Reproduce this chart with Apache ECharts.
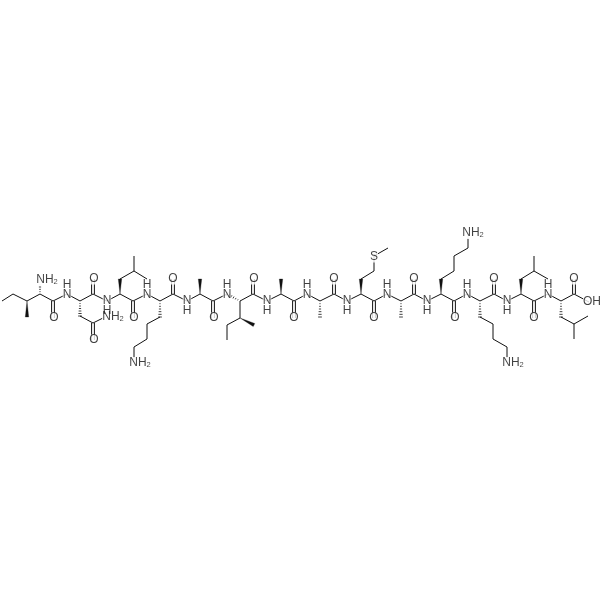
<!DOCTYPE html>
<html><head><meta charset="utf-8">
<style>html,body{margin:0;padding:0;background:#fff}#c{width:600px;height:600px}</style>
<script src="https://cdn.jsdelivr.net/npm/echarts@6/dist/echarts.min.js"></script>
</head><body><div id="c"></div>
<script>
// Atom coordinates (x right, y down), each bond: [x1,y1,x2,y2]
const singleBonds = [
 [2,301,13,294],[13,294,27,301],[27,301,40,294],[40,294,53,301],[53,301,67,294],[67,294,80,301],[80,301,93,294],
 [93,294,107,301],[107,301,120,294],[120,294,133,301],[133,301,147,294],[147,294,160,301],[160,301,173,294],
 [173,294,187,301],[187,301,200,294],[200,294,213,301],[213,301,227,294],[240,301,253,294],
 [253,294,267,301],[267,301,281,294],[281,294,294,301],[294,301,307,294],[307,294,320,301],[320,301,334,294],
 [334,294,347,301],[347,301,361,294],[361,294,374,301],[374,301,387,294],[387,294,401,301],[401,301,414,294],
 [414,294,427,301],[427,301,441,294],[441,294,454,301],[454,301,467,294],[467,294,480,301],[480,301,494,294],
 [494,294,507,301],[507,301,521,294],[521,294,534,301],[534,301,548,294],[548,294,561,301],[561,301,574,294],[574,294,589,302],
 // Asn side chain
 [80,316,93,323],[93,323,107,316],
 // Leu3
 [120,279,134,271],[134,271,134,256],[134,271,147,279],
 // Lys4
 [160,317,147,324],[147,324,147,339],[147,339,134,347],[134,347,134,362],
 // Ile6
 [240,301,240,318],[240,318,227,325],[227,325,227,340],
 // Met9
 [361,279,374,271],[374,271,374,256],[374,256,388,248],
 // Lys11
 [441,279,454,271],[454,271,454,256],[454,256,468,248],[468,248,468,233],
 // Lys12
 [480,317,493,324],[493,324,493,339],[493,339,507,347],[507,347,507,362],
 // Leu13
 [521,279,534,271],[534,271,534,256],[534,271,548,279],
 // Leu14
 [561,317,574,324],[574,324,574,339],[574,324,588,316]
];
const doubleBonds = [
 [53,301,53,318],[93,294,93,279],[133,301,133,318],[173,294,173,279],[213,301,213,318],[253,294,253,279],
 [294,301,294,318],[334,294,334,279],[374,301,374,318],[414,294,414,279],[454,301,454,318],[494,294,494,279],
 [534,301,534,318],[574,294,574,279],[93,323,93,340]
];
const wedgeBonds = [
 [27,301,27,317],[120,294,120,279],[200,294,200,279],[240,318,254,325],[281,294,281,279],[361,294,361,279],
 [441,294,441,279],[521,294,521,279]
];
const hashBonds = [
 [40,294,40,280],[80,301,80,316],[160,301,160,317],[240,301,227,294],[320,301,320,317],[401,301,401,317],
 [480,301,480,317],[561,301,561,317]
];
const atomLabels = [
 [41,280,'NH2'],[107,317,'NH2'],[134,363,'NH2'],[467,233,'NH2'],[507,363,'NH2'],[587,302,'OH'],[374,257,'S'],
 [54,318,'O'],[94,279,'O'],[94,340,'O'],[134,318,'O'],[173,279,'O'],[214,318,'O'],[254,279,'O'],[294,318,'O'],
 [334,279,'O'],[374,318,'O'],[414,279,'O'],[455,318,'O'],[494,279,'O'],[534,318,'O'],[574,279,'O'],
 [67,295,'N'],[107,301,'N'],[147,295,'N'],[187,301,'N'],[227,295,'N'],[267,301,'N'],[307,295,'N'],[347,301,'N'],
 [387,295,'N'],[427,301,'N'],[467,295,'N'],[507,301,'N'],[548,295,'N'],
 [67,285,'H'],[107,311,'H'],[147,285,'H'],[187,311,'H'],[227,285,'H'],[267,311,'H'],[307,285,'H'],[347,311,'H'],
 [387,285,'H'],[427,311,'H'],[467,285,'H'],[507,311,'H'],[548,285,'H']
];

const INK = '#111';
const W = 1;
function pts(api){
  const a = api.coord([api.value(0), api.value(1)]);
  const b = api.coord([api.value(2), api.value(3)]);
  const dx=b[0]-a[0], dy=b[1]-a[1], L=Math.hypot(dx,dy)||1;
  return {a,b,dx,dy,L,nx:-dy/L,ny:dx/L};
}
const lineStyle = {stroke:INK,lineWidth:W,fill:null};
function bondSeries(name,data,render,z){
  return {type:'custom',name,data,coordinateSystem:'cartesian2d',silent:true,z,clip:false,animation:false,
    encode:{x:[0,2],y:[1,3]},renderItem:render};
}
const renderSingle=(p,api)=>{const {a,b}=pts(api);
  return {type:'line',shape:{x1:a[0],y1:a[1],x2:b[0],y2:b[1]},style:lineStyle};};
const renderDouble=(p,api)=>{const {a,b,nx,ny}=pts(api);const o=1.4;
  return {type:'group',children:[1,-1].map(s=>({type:'line',
    shape:{x1:a[0]+s*o*nx,y1:a[1]+s*o*ny,x2:b[0]+s*o*nx,y2:b[1]+s*o*ny},style:lineStyle}))};};
const renderWedge=(p,api)=>{const {a,b,nx,ny}=pts(api);const h=1.7;
  return {type:'polygon',shape:{points:[a,[b[0]+h*nx,b[1]+h*ny],[b[0]-h*nx,b[1]-h*ny]]},style:{fill:INK,stroke:INK,lineWidth:0.3}};};
const renderHash=(p,api)=>{const {a,b,dx,dy,nx,ny}=pts(api);const n=6,kids=[];
  for(let i=1;i<=n;i++){const t=i/n,h=0.3+1.6*t,x=a[0]+dx*t,y=a[1]+dy*t;
    kids.push({type:'line',shape:{x1:x+h*nx,y1:y+h*ny,x2:x-h*nx,y2:y-h*ny},style:{stroke:INK,lineWidth:0.8}});}
  return {type:'group',children:kids};};

const FS = 12;
const option = {
  animation:false,backgroundColor:'#fff',
  grid:{left:0,right:0,top:0,bottom:0},
  xAxis:{type:'value',min:0,max:600,show:false},
  yAxis:{type:'value',min:0,max:600,inverse:true,show:false},
  series:[
    bondSeries('single',singleBonds,renderSingle,2),
    bondSeries('double',doubleBonds,renderDouble,2),
    bondSeries('wedge',wedgeBonds,renderWedge,2),
    bondSeries('hash',hashBonds,renderHash,2),
    {type:'scatter',name:'atoms',z:5,silent:true,symbolSize:0,
     data:atomLabels.map(d=>({value:[d[0],d[1]],label:{
       show:true,position:'inside',
       // NH2 and OH are written from the N/O, which sits over the bond end
       offset:d[2]==='NH2'?[6,0]:d[2]==='OH'?[5,0]:[0,0],
       formatter:d[2]==='NH2'?'{t|NH}{s|2}':d[2],
       fontFamily:'Liberation Sans',fontSize:FS,color:INK,
       backgroundColor:d[2]==='H'?'transparent':'#fff',lineHeight:11,
       rich:{t:{fontFamily:'Liberation Sans',fontSize:FS,color:INK,backgroundColor:'#fff',lineHeight:11},
             s:{fontFamily:'Liberation Sans',fontSize:7.5,color:INK,backgroundColor:'#fff',lineHeight:11,verticalAlign:'bottom',padding:[5,0,0,0]}}
     }}))}
  ]
};
echarts.init(document.getElementById('c'),null,{renderer:'canvas'}).setOption(option);
</script></body></html>
